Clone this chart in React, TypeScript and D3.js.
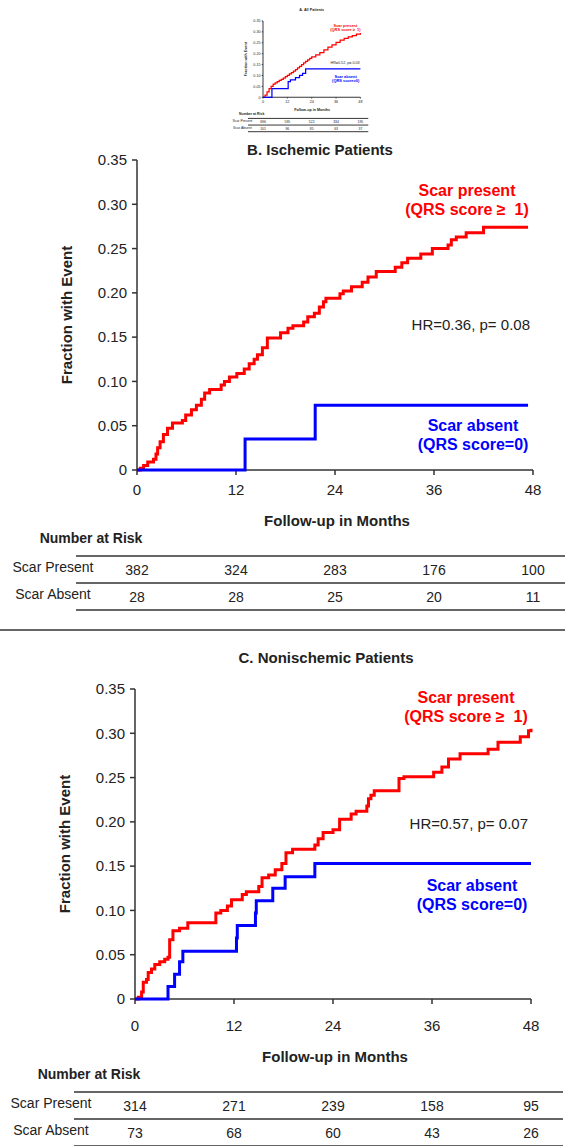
import React from 'react'
import * as d3 from 'd3'

type Step = [number, number]

const months = [0, 12, 24, 36, 48]
const fractionTicks = [0, 0.05, 0.1, 0.15, 0.2, 0.25, 0.3, 0.35]

// cumulative fraction with event, [month, value] at each step
const allPresent: Step[] = [
  [0, 0], [1, 0.01], [2, 0.025], [3, 0.04], [4, 0.05], [5, 0.06], [6, 0.066], [7, 0.072],
  [8, 0.078], [9, 0.082], [10, 0.088], [11, 0.095], [12, 0.1], [13, 0.107], [14, 0.113],
  [15, 0.12], [16, 0.127], [17, 0.135], [18, 0.142], [19, 0.15], [20, 0.158], [21, 0.165],
  [22, 0.172], [23, 0.178], [24, 0.185], [26, 0.195], [28, 0.205], [30, 0.218], [32, 0.23],
  [34, 0.24], [36, 0.252], [38, 0.262], [40, 0.27], [42, 0.277], [44, 0.283], [46, 0.29], [48, 0.295],
]
const allAbsent: Step[] = [
  [0, 0], [4.4, 0.04], [12.4, 0.072], [13.5, 0.08], [16, 0.09], [18, 0.1], [19.5, 0.11], [21, 0.13], [48, 0.13],
]

const ischPresent: Step[] = [
  [0, 0], [0.4, 0.002], [0.8, 0.005], [1.3, 0.009], [2.0, 0.012], [2.3, 0.018], [2.5, 0.025],
  [2.8, 0.032], [3.2, 0.04], [3.7, 0.047], [4.3, 0.053], [5.5, 0.056], [5.9, 0.062], [6.6, 0.068],
  [7.2, 0.073], [7.8, 0.08], [8.2, 0.087], [8.8, 0.091], [10.2, 0.096], [10.6, 0.1], [11.2, 0.105],
  [12.1, 0.109], [13.0, 0.114], [13.6, 0.12], [14.2, 0.125], [14.6, 0.13], [15.2, 0.138],
  [15.8, 0.149], [17.4, 0.155], [18.3, 0.16], [18.9, 0.163], [20.2, 0.167], [20.7, 0.173],
  [21.5, 0.177], [22.1, 0.184], [22.6, 0.19], [22.9, 0.194], [24.6, 0.199], [25.0, 0.202],
  [26.0, 0.207], [27.3, 0.212], [28.0, 0.218], [29.0, 0.224], [31.3, 0.229], [32.1, 0.234],
  [32.8, 0.239], [34.4, 0.244], [35.8, 0.25], [37.7, 0.254], [38.1, 0.26], [38.7, 0.263],
  [39.9, 0.268], [42.0, 0.274], [47.4, 0.274],
]
const ischAbsent: Step[] = [[0, 0], [13.1, 0.035], [21.6, 0.073], [47.4, 0.073]]

const nonischPresent: Step[] = [
  [0, 0], [0.4, 0.002], [0.8, 0.008], [1.0, 0.019], [1.4, 0.022], [1.6, 0.03], [2.0, 0.034],
  [2.4, 0.039], [3.0, 0.042], [3.6, 0.045], [4.0, 0.047], [4.2, 0.067], [4.6, 0.077], [5.4, 0.08],
  [6.4, 0.086], [9.8, 0.097], [10.4, 0.1], [11.2, 0.105], [11.7, 0.112], [13.0, 0.118],
  [13.5, 0.121], [15.0, 0.127], [15.4, 0.137], [16.2, 0.14], [17.0, 0.146], [17.8, 0.153],
  [18.3, 0.165], [19.1, 0.169], [21.8, 0.174], [22.2, 0.181], [22.8, 0.188], [24.0, 0.191],
  [24.8, 0.203], [26.2, 0.209], [26.8, 0.212], [28.1, 0.218], [28.3, 0.226], [28.6, 0.23],
  [29.0, 0.235], [32.0, 0.249], [32.6, 0.251], [36.2, 0.256], [37.2, 0.262], [38.0, 0.271],
  [39.4, 0.277], [42.8, 0.282], [44.0, 0.29], [46.7, 0.296], [47.7, 0.303], [48.0, 0.305],
]
const nonischAbsent: Step[] = [
  [0, 0], [4.0, 0.014], [4.8, 0.028], [5.4, 0.042], [5.8, 0.054], [12.3, 0.069], [12.4, 0.083],
  [14.6, 0.097], [14.7, 0.111], [16.7, 0.125], [18.2, 0.138], [21.8, 0.153], [48, 0.153],
]

const allRiskPresent = [696, 595, 522, 334, 195]
const allRiskAbsent = [101, 96, 85, 63, 37]
const ischRiskPresent = [382, 324, 283, 176, 100]
const ischRiskAbsent = [28, 28, 25, 20, 11]
const nonischRiskPresent = [314, 271, 239, 158, 95]
const nonischRiskAbsent = [73, 68, 60, 43, 26]

const FONT = 'Liberation Sans, Arial, sans-serif'
const RED = '#ff0000'
const BLUE = '#0000ff'
const INK = '#222'
const W = 396
const H = 310

type PanelProps = {
  x: number
  y: number
  k: number
  title: string
  titleX: number
  titleY: number
  present: Step[]
  absent: Step[]
  hr: string
  hrY: number
  redX: number
  redY: number
  blueX: number
  blueY: number
  riskPresent: number[]
  riskAbsent: number[]
  dy: number
  lw: number
  aw: number
}

const Panel = (p: PanelProps) => {
  const xs = d3.scaleLinear().domain([0, 48]).range([0, W])
  const ys = d3.scaleLinear().domain([0, 0.35]).range([H, 0])
  const line = d3.line<Step>().x(d => xs(d[0])).y(d => ys(d[1])).curve(d3.curveStepAfter)
  const fmt = (v: number) => (v === 0 ? '0' : d3.format('.2f')(v))
  const dy = p.dy
  return (
    <g transform={`translate(${p.x},${p.y}) scale(${p.k})`} fontFamily={FONT}>
      <text x={p.titleX} y={p.titleY} dy="0.35em" textAnchor="middle" fontWeight="bold" fontSize={15} fill={INK}>
        {p.title}
      </text>
      {/* axes */}
      <line x1={0} x2={0} y1={0} y2={H} stroke="#333" strokeWidth={p.aw} />
      <line x1={0} x2={W} y1={H} y2={H} stroke="#333" strokeWidth={p.aw} />
      {fractionTicks.map(t => (
        <g key={t}>
          <line x1={-5} x2={0} y1={ys(t)} y2={ys(t)} stroke="#333" strokeWidth={p.aw} />
          <text x={-10} y={ys(t)} dy="0.35em" textAnchor="end" fontSize={15} fill={INK}>{fmt(t)}</text>
        </g>
      ))}
      {months.map(m => (
        <g key={m}>
          <line x1={xs(m)} x2={xs(m)} y1={H} y2={H + 5} stroke="#333" strokeWidth={p.aw} />
          <text x={xs(m)} y={H + 20 + dy} dy="0.35em" textAnchor="middle" fontSize={15} fill={INK}>{m}</text>
        </g>
      ))}
      <text transform={`translate(-70,${H / 2}) rotate(-90)`} dy="0.35em" textAnchor="middle" fontWeight="bold" fontSize={15} fill={INK}>
        Fraction with Event
      </text>
      <text x={200} y={361 + dy} dy="0.35em" textAnchor="middle" fontWeight="bold" fontSize={15} fill={INK}>
        Follow-up in Months
      </text>
      {/* curves */}
      <path d={line(p.present) ?? ''} fill="none" stroke={RED} strokeWidth={p.lw} />
      <path d={line(p.absent) ?? ''} fill="none" stroke={BLUE} strokeWidth={p.lw} />
      {/* labels */}
      <text x={p.redX} y={p.redY} dy="0.35em" textAnchor="middle" fontWeight="bold" fontSize={16} fill={RED}>Scar present</text>
      <text x={p.redX} y={p.redY + 19} dy="0.35em" textAnchor="middle" fontWeight="bold" fontSize={16} fill={RED}>{'(QRS score ≥\u00a0 1)'}</text>
      <text x={393} y={p.hrY} dy="0.35em" textAnchor="end" fontSize={15} fill={INK}>{p.hr}</text>
      <text x={p.blueX} y={p.blueY} dy="0.35em" textAnchor="middle" fontWeight="bold" fontSize={16} fill={BLUE}>Scar absent</text>
      <text x={p.blueX} y={p.blueY + 19} dy="0.35em" textAnchor="middle" fontWeight="bold" fontSize={16} fill={BLUE}>(QRS score=0)</text>
      {/* number at risk */}
      <text x={-46} y={378 + dy} dy="0.35em" textAnchor="middle" fontWeight="bold" fontSize={14} fill={INK}>Number at Risk</text>
      {[396, 423, 450].map(ly => (
        <line key={ly} x1={-61} x2={428} y1={ly + dy} y2={ly + dy} stroke="#333" strokeWidth={p.aw} />
      ))}
      <text x={-84} y={407 + dy} dy="0.35em" textAnchor="middle" fontSize={14} fill={INK}>Scar Present</text>
      <text x={-84} y={434 + dy} dy="0.35em" textAnchor="middle" fontSize={14} fill={INK}>Scar Absent</text>
      {months.map((m, i) => (
        <g key={m}>
          <text x={xs(m)} y={410 + dy} dy="0.35em" textAnchor="middle" fontSize={14} fill={INK}>{p.riskPresent[i]}</text>
          <text x={xs(m)} y={437 + dy} dy="0.35em" textAnchor="middle" fontSize={14} fill={INK}>{p.riskAbsent[i]}</text>
        </g>
      ))}
    </g>
  )
}

export default function App() {
  return (
    <svg width={565} height={1146} style={{ position: 'absolute', left: 0, top: 0, background: '#fff' }}>
      <rect width={565} height={1146} fill="#fff" />
      <Panel
        x={263} y={21} k={0.246} title="A. All Patients" titleX={198} titleY={-45}
        present={allPresent} absent={allAbsent} hr="HR=0.52, p= 0.03" hrY={170}
        redX={335} redY={18} blueX={336} blueY={225}
        riskPresent={allRiskPresent} riskAbsent={allRiskAbsent} dy={0} lw={5} aw={4}
      />
      <Panel
        x={137} y={160} k={1} title="B. Ischemic Patients" titleX={183} titleY={-10}
        present={ischPresent} absent={ischAbsent} hr="HR=0.36, p= 0.08" hrY={165}
        redX={330} redY={30} blueX={336} blueY={265}
        riskPresent={ischRiskPresent} riskAbsent={ischRiskAbsent} dy={0} lw={3} aw={1.5}
      />
      <line x1={0} x2={565} y1={630} y2={630} stroke="#333" strokeWidth={1.5} />
      <Panel
        x={135} y={689} k={1} title="C. Nonischemic Patients" titleX={191} titleY={-31}
        present={nonischPresent} absent={nonischAbsent} hr="HR=0.57, p= 0.07" hrY={135}
        redX={331} redY={8} blueX={337} blueY={196}
        riskPresent={nonischRiskPresent} riskAbsent={nonischRiskAbsent} dy={7} lw={3} aw={1.5}
      />
    </svg>
  )
}
